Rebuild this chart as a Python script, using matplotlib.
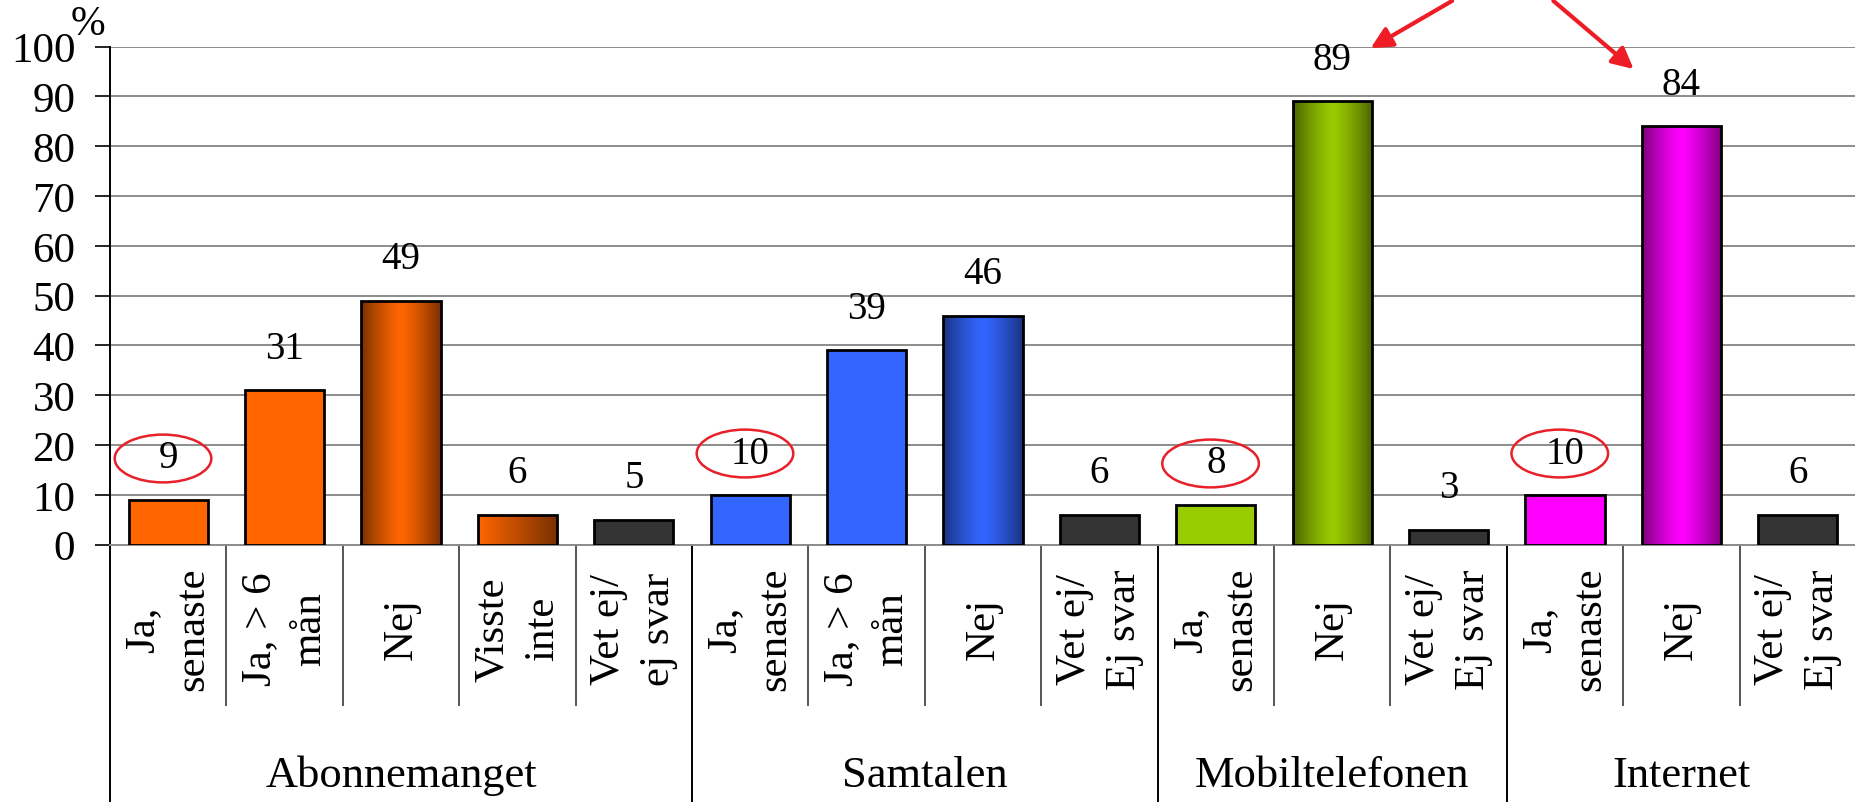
import numpy as np
import matplotlib.pyplot as plt
from matplotlib.patches import Ellipse
from matplotlib.colors import to_rgb

plt.rcParams['font.family'] = ['Liberation Serif', 'DejaVu Serif']

# data
sub_labels = ["Ja,\nsenaste", "Ja, > 6\nmån", "Nej", "Visste\ninte", "Vet ej/\nej svar",
              "Ja,\nsenaste", "Ja, > 6\nmån", "Nej", "Vet ej/\nEj svar",
              "Ja,\nsenaste", "Nej", "Vet ej/\nEj svar",
              "Ja,\nsenaste", "Nej", "Vet ej/\nEj svar"]
values = [9, 31, 49, 6, 5, 10, 39, 46, 6, 8, 89, 3, 10, 84, 6]
groups = ["Abonnemanget", "Samtalen", "Mobiltelefonen", "Internet"]
group_sizes = [5, 4, 3, 3]
circled = [0, 5, 9, 12]          # "Ja, senaste" bars marked with a red ring
arrowed = [10, 13]               # "Nej" bars pointed at

# fill per bar: (colour, dark colour, gradient kind)
orange, dorange = '#FF6600', '#7A3000'
blue, dblue = '#3366FF', '#1A3380'
green, dgreen = '#99CC00', '#4A6300'
mag, dmag = '#FF00FF', '#7F007F'
grey = '#333333'
fills = [(orange, None, None), (orange, None, None), (orange, dorange, 'mirror'),
         (orange, dorange, 'ramp'), (grey, None, None),
         (blue, None, None), (blue, None, None), (blue, dblue, 'mirror'), (grey, None, None),
         (green, None, None), (green, dgreen, 'mirror'), (grey, None, None),
         (mag, None, None), (mag, dmag, 'mirror'), (grey, None, None)]

fig = plt.figure(figsize=(18.56, 8.03), dpi=100)
ax = fig.add_axes([0.0593, 0.3205, 0.9407, 0.6201])

x = np.arange(len(values))
bars = ax.bar(x, values, width=0.68, color=[f[0] for f in fills],
              edgecolor='black', linewidth=2, zorder=3)

def gradient(c, d, kind, n=256):
    t = np.linspace(0, 1, n)
    if kind == 'mirror':
        w = np.abs(t - 0.5) * 2
        w = w ** 1.3
    else:
        w = t
    c, d = np.array(to_rgb(c)), np.array(to_rgb(d))
    img = (1 - w)[:, None] * c + w[:, None] * d
    return img[None, :, :]

for b, (c, d, kind) in zip(bars, fills):
    if kind is None:
        continue
    x0, w, h = b.get_x(), b.get_width(), b.get_height()
    im = ax.imshow(gradient(c, d, kind), extent=[x0, x0 + w, 0, h], aspect='auto',
                   zorder=3.5, interpolation='bilinear')
    im.set_clip_path(b)
    b.set_facecolor('none')
    b.set_zorder(4)

# value labels
for i, v in enumerate(values):
    ax.text(i, v + 8.4, str(v), ha='center', va='center', fontsize=28, zorder=5)

for i in circled:
    ax.add_patch(Ellipse((i - 0.045, values[i] + 8.3), 0.83, 9.6, fill=False,
                         edgecolor='#E8202A', linewidth=1.8, zorder=5))

# arrows from above the plot towards the two big "Nej" labels
ax.annotate('', xy=(arrowed[0] + 0.33, 99.7), xytext=(arrowed[0] + 1.03, 109.2),
            annotation_clip=False,
            arrowprops=dict(arrowstyle='-|>', color='#EE1C25', lw=3, mutation_scale=32,
                            shrinkA=0, shrinkB=0))
ax.annotate('', xy=(arrowed[1] - 0.41, 95.5), xytext=(arrowed[1] - 1.1, 109.2),
            annotation_clip=False,
            arrowprops=dict(arrowstyle='-|>', color='#EE1C25', lw=3, mutation_scale=32,
                            shrinkA=0, shrinkB=0))

ax.set_xlim(-0.5, len(values) - 0.5)
ax.set_ylim(0, 100)
ax.set_yticks(np.arange(0, 101, 10))
ax.tick_params(axis='y', labelsize=31, length=11, width=1.2, pad=14, direction='out')
ax.set_xticks([])
ax.yaxis.grid(True, color='#8C8C8C', linewidth=1.4)
ax.set_axisbelow(True)
for s in ['top', 'right']:
    ax.spines[s].set_visible(False)
ax.spines['left'].set_linewidth(1.4)
ax.spines['bottom'].set_color('#8C8C8C')
ax.spines['bottom'].set_linewidth(1.4)

ax.text(-0.0125, 1.047, '%', transform=ax.transAxes, ha='center', va='center', fontsize=30)

# category axis: sub labels, separators, group labels
tr = ax.get_xaxis_transform()
for i, lab in enumerate(sub_labels):
    ax.text(i, -0.168, lab, transform=tr, rotation=90, ha='center', va='center',
            multialignment='center', fontsize=31, linespacing=1.4, clip_on=False)

edges = np.cumsum([0] + group_sizes)
for i in range(1, len(values)):
    if i in edges:
        continue
    ax.plot([i - 0.5, i - 0.5], [0, -0.322], transform=tr, color='#555555', lw=1.4,
            clip_on=False)
for e in edges:
    ax.plot([e - 0.5, e - 0.5], [0, -0.52], transform=tr, color='black', lw=1.4,
            clip_on=False)
for g, a, b in zip(groups, edges[:-1], edges[1:]):
    ax.text((a + b - 1) / 2, -0.463, g, transform=tr, ha='center', va='center', fontsize=32)

fig.savefig('out.png', dpi=100)
